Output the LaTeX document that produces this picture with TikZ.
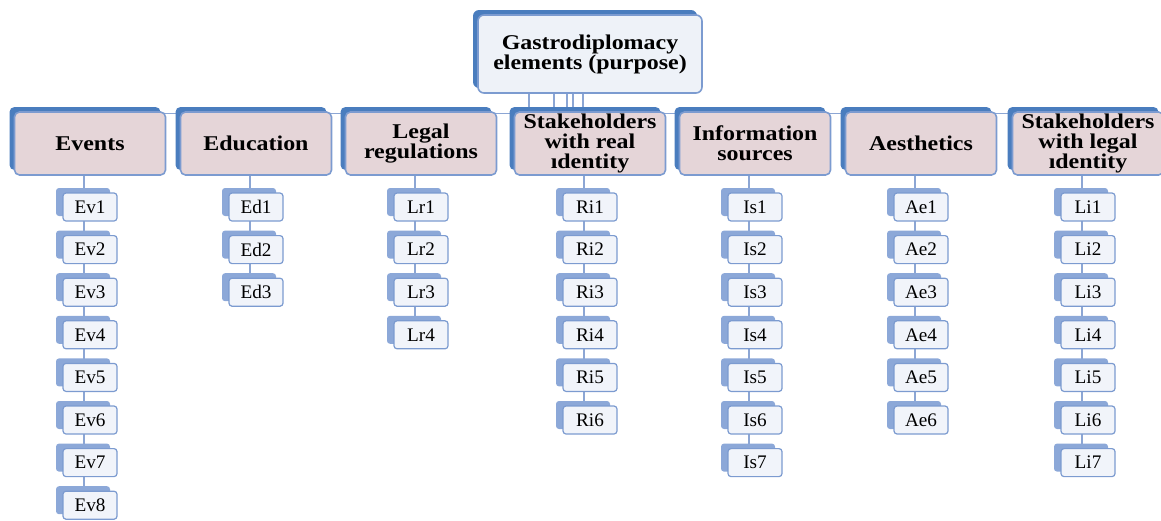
\documentclass[tikz,border=0pt]{standalone}
\usepackage{fontspec}
\setmainfont{Liberation Serif}
\newfontfamily\headfont{Liberation Serif}[FakeStretch=1.14]
\usetikzlibrary{shadows,backgrounds}

\definecolor{catfill}{HTML}{E5D5D8}
\definecolor{boxline}{HTML}{7C9BD0}
\definecolor{shadeblue}{HTML}{4A7DBE}
\definecolor{topfill}{HTML}{EEF2F8}
\definecolor{leaffill}{HTML}{F1F4FA}
\definecolor{leafshade}{HTML}{8CA8D8}
\definecolor{linkblue}{HTML}{8CA6D4}

\tikzset{
  topbox/.style={draw=boxline, line width=0.8pt, fill=topfill, rounded corners=3pt,
    minimum width=112pt, minimum height=39pt, inner sep=0pt, align=center,
    font=\headfont\bfseries\fontsize{10.5}{10}\selectfont,
    general shadow={fill=shadeblue, shadow xshift=-2.5pt, shadow yshift=2.5pt}},
  catbox/.style={topbox, fill=catfill, rounded corners=2.5pt,
    minimum width=75.5pt, minimum height=31.5pt},
  leaf/.style={draw=boxline, line width=0.6pt, fill=leaffill, rounded corners=1.5pt,
    minimum width=27pt, minimum height=14pt, inner sep=0pt,
    font=\fontsize{9.6}{9.6}\selectfont,
    general shadow={fill=leafshade, shadow xshift=-3.5pt, shadow yshift=2.5pt}},
  link/.style={draw=linkblue, line width=0.7pt}
}

\begin{document}
\begin{tikzpicture}[x=0.5pt,y=-0.5pt]
    \useasboundingbox (0,0) rectangle (1161,520);

    \node[topbox] (top) at (590,54) {Gastrodiplomacy\\elements (purpose)};

    \node[catbox] (ev) at (90,143.5) {Events};
    \node[catbox] (ed) at (256,143.5) {Education};
    \node[catbox] (lr) at (421,143.5) {Legal\\regulations};
    \node[catbox] (ri) at (590,143.5) {Stakeholders\\with real\\ıdentity};
    \node[catbox] (is) at (755,143.5) {Information\\sources};
    \node[catbox] (ae) at (921,143.5) {Aesthetics};
    \node[catbox] (li) at (1088,143.5) {Stakeholders\\with legal\\ıdentity};

    \foreach \i in {1,...,8} \node[leaf] (ev\i) at (90,{207+42.6*(\i-1)}) {Ev\i};
    \foreach \i in {1,...,3} \node[leaf] (ed\i) at (256,{207+42.6*(\i-1)}) {Ed\i};
    \foreach \i in {1,...,4} \node[leaf] (lr\i) at (421,{207+42.6*(\i-1)}) {Lr\i};
    \foreach \i in {1,...,6} \node[leaf] (ri\i) at (590,{207+42.6*(\i-1)}) {Ri\i};
    \foreach \i in {1,...,7} \node[leaf] (is\i) at (755,{207+42.6*(\i-1)}) {Is\i};
    \foreach \i in {1,...,6} \node[leaf] (ae\i) at (921,{207+42.6*(\i-1)}) {Ae\i};
    \foreach \i in {1,...,7} \node[leaf] (li\i) at (1088,{207+42.6*(\i-1)}) {Li\i};

    \begin{scope}[on background layer]
        % top box to the seven groups
        \draw[link] ([xshift=-30.5pt]top.south) |- ([yshift=-1pt]ev.north);
        \draw[link] ([xshift=-18pt]top.south) |- ([yshift=-1pt]ed.north);
        \draw[link] ([xshift=-11.5pt]top.south) |- ([yshift=-1pt]lr.north);
        \draw[link] ([xshift=-8.5pt]top.south) |- ([yshift=-1pt]ri.north);
        \draw[link] ([xshift=-3.5pt]top.south) |- ([yshift=-1pt]is.north);
        \draw[link] ([xshift=-3.5pt]top.south) |- ([yshift=-1pt]ae.north);
        \draw[link] ([xshift=-3.5pt]top.south) |- ([yshift=-1pt]li.north);

        % groups to their items
        \draw[link] ([xshift=-3pt]ev.south) -- ([xshift=-3pt]ev8.center);
        \draw[link] ([xshift=-3pt]ed.south) -- ([xshift=-3pt]ed3.center);
        \draw[link] ([xshift=-3pt]lr.south) -- ([xshift=-3pt]lr4.center);
        \draw[link] ([xshift=-3pt]ri.south) -- ([xshift=-3pt]ri6.center);
        \draw[link] ([xshift=-3pt]is.south) -- ([xshift=-3pt]is7.center);
        \draw[link] ([xshift=-3pt]ae.south) -- ([xshift=-3pt]ae6.center);
        \draw[link] ([xshift=-3pt]li.south) -- ([xshift=-3pt]li7.center);
    \end{scope}
\end{tikzpicture}
\end{document}
